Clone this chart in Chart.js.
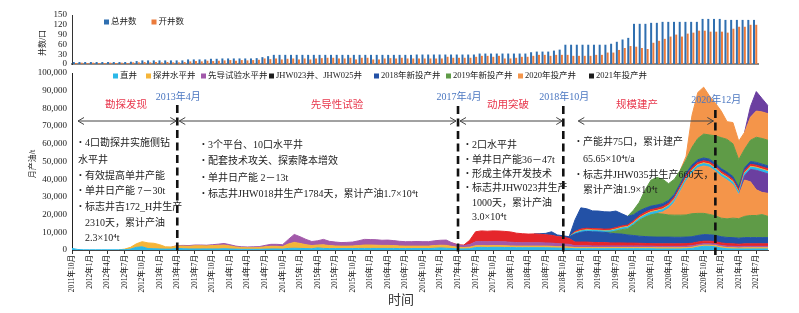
<!DOCTYPE html>
<html>
<head>
<meta charset="utf-8">
<script src="https://cdn.jsdelivr.net/npm/chart.js@4.4.1/dist/chart.umd.min.js"></script>
<style>
body { margin: 0; background: #fff; }
#wrap { position: relative; width: 799px; height: 313px; }
canvas { position: absolute; left: 0; top: 0; }
</style>
</head>
<body>
<div id="wrap">
<canvas id="wells" width="799" height="313"></canvas>
<canvas id="oil" width="799" height="313"></canvas>
</div>
<script>
// months 2011-10 .. 2021-09
var months = [];
for (var yy = 2011, mm = 10; months.length < 120; mm++) {
    if (mm > 12) { mm = 1; yy++; }
    months.push(yy + '年' + mm + '月');
}

function after(n, vals) {
    var out = [];
    for (var i = 0; i < n; i++) out.push(0);
    return out.concat(vals);
}

// top panel: well counts
var totalWells = [6,6,6,6,6,6,6,6,6,6, 7,9,11,11,11,11,11,11,11,11,
    14,14,14,14,16,16,17,17,17,17, 17,17,18,21,24,28,28,28,28,28,
    28,28,28,28,28,28,28,28,28,28, 28,28,28,28,28,28,28,28,28,28,
    29,29,29,29,29,29,29,29,29,29, 29,32,32,32,32,32,32,32,32,32,
    36,38,38,38,41,44,59,59,59,59, 59,59,59,59,62,68,75,80,123,123,
    123,126,126,129,129,129,129,129,129,129, 138,138,138,138,135,135,135,135,135,135];
var openWells = [3,4,3,4,3,3,4,3,4,3, 5,5,6,5,6,5,6,5,5,6,
    8,9,8,10,9,10,11,12,10,12, 11,12,13,17,15,17,14,16,17,14,
    17,14,17,18,19,19,17,17,19,14, 19,19,14,14,17,18,17,19,17,17,
    17,17,17,17,17,22,19,19,19,19, 22,25,25,22,25,17,17,19,22,22,
    25,28,28,25,28,28,28,25,25,25, 25,28,28,35,35,43,49,55,53,49,
    46,65,71,77,84,90,84,93,96,102, 102,99,99,99,96,108,114,114,120,120];

// monthly oil (t), stacked layers from bottom to top
var cyanLow = [900,300,100,100,100,100,100,100,100,200,
    500,1500,1800,800,700,600,500,500,900,700,
    600,600,600,600,600,600,700,600,500,400,
    400,400,400,500,600,600,500,900,1000,900,
    800,700,1200,900,800,800,800,800,800,900,
    900,900,900,900,900,900,800,800,800,800,
    800,800,1000,1200,1000,800,600,600,700,1400,
    1500,1400,1500,1500,1400,1400,1300,1300,1300,1300,
    1300,1300,1200,1100,1000,900,700,700,700,700,
    700,700,700,700,700,700,700,700,700,700,
    600,600,600,600,600,700,900,1600,2100,2100,
    1800,1100,700,600,600,600,600,600,600,600];
var yellowLow = [0,0,0,0,0,0,0,0,0,300,
    1000,2000,2900,3200,3100,2400,1300,1200,1400,1500,
    1500,1800,1800,1700,1900,2000,2100,1700,1200,1000,
    900,900,1000,1300,1500,1500,1400,2500,3300,2800,
    2200,1800,1600,2000,1700,1500,1400,1400,1500,1600,
    1900,1900,1800,1700,1700,1600,1500,1400,1400,1400,
    1400,1400,1500,1500,1600,1200,900,800,900,1000,
    1000,1000,1000,1000,1000,900,900,900,900,900,
    900,900,900,800,800,800,700,700,700,700,
    700,700,700,700,700,700,700,700,700,700,
    700,700,700,700,700,700,700,700,700,700,
    700,700,700,700,600,700,700,700,700,700];
var purpleLow = [0,0,0,0,0,0,0,0,0,0,
    0,0,0,0,0,0,0,0,200,400,
    400,400,400,400,500,700,900,700,500,400,
    400,500,500,800,1100,1100,1100,2600,4500,3800,
    3000,2300,2400,3100,2400,2200,2000,2100,2200,2700,
    3200,3100,3100,2900,3000,2800,2600,2500,2500,2600,
    2500,2500,2700,2800,3000,2000,1200,1100,1500,2200,
    2300,2200,2300,2200,2200,2100,2000,1900,1900,1900,
    1900,1800,1800,1700,1600,1500,1000,1000,1000,900,
    900,900,900,900,900,900,900,900,800,800,
    800,800,800,800,800,800,800,800,800,800,
    800,800,800,800,800,800,800,800,800,800];
var redJhw = after(66, [200,300,2400,5700,
    6000,6000,6000,6000,5900,5800,5300,5100,4900,5000,
    4800,4600,4400,4000,3800,3300,2100,2100,2100,2000,
    1900,1900,1700,1700,1700,1600,1600,1500,1500,1400,
    1400,1400,1400,1400,1400,1400,1400,1400,1400,1400,
    1400,1400,1400,1400,1300,1400,1400,1400,1400,1400]);
var blue2018Low = after(80, [300,800,2000,900,800,1000,4500,5500,6000,6000,
    6000,5800,5500,5200,5000,4600,4300,4000,3900,3800,
    3800,3800,3800,3700,3700,3700,3700,3700,3700,3600,
    3600,3500,3500,3500,3400,3500,3500,3500,3500,3500]);
var green2019Low = after(92, [500,1500,2500,3500,6000,9000,11000,12500,
    13300,13000,12500,12500,12500,12500,13000,12500,12000,11500,
    11000,10500,10500,11000,11000,12000,12500,12500,13000,12000]);
var orange2020Low = after(101, [1200,3700,7300,13300,19200,23000,25800,26800,26700,
    25200,23500,21900,19000,13300,20500,19000,14500,12500,13000]);
var purple2021Low = after(115, [2500,7000,11000,11500,11000]);
var cyanBand = after(86, [600,700,700,700,700,700,800,800,900,900,
    900,1000,1100,1300,1300,1300,1300,1300,1300,1300,
    1300,1300,1300,1300,1300,1300,1300,1300,1300,1300,
    1300,1300,1300,1300]);
var yellowBand = after(86, [300,300,300,300,300,300,300,400,400,400,
    400,500,500,500,500,500,500,500,500,500,
    500,500,500,500,500,500,500,500,500,500,
    500,500,500,500]);
var redBand = after(86, [600,800,800,800,800,800,800,800,800,800,
    900,1000,1100,1100,1100,1100,1100,1100,1100,1100,
    1100,1100,1100,1100,1100,1100,1100,1100,1100,1100,
    1100,1100,1100,1100]);
var blue2018High = after(86, [6500,12000,11000,10000,10000,9800,9600,9300,6900,4900,
    3500,2800,2300,2000,1900,1800,1600,1600,1600,1600,
    1600,1600,1600,1600,1600,1600,1600,1600,1600,1600,
    1600,1600,1600,1600]);
var green2019High = after(96, [2600,4900,10400,14700,15600,13800,9500,8500,7500,7500,
    10000,12000,13500,13700,15500,17500,18500,18500,15500,10500,
    12000,14200,14500,14500]);
var orange2020High = after(105, [2000,18000,26000,26500,22000,18500,15000,10000,12000,10500,
    9500,13000,14800,15000,15000]);
var purple2021High = after(116, [6000,11000,7500,4500]);

var milestones = ['2013年4月', '2017年4月', '2018年10月', '2020年12月'];
var phaseNames = ['勘探发现', '先导性试验', '动用突破', '规模建产'];
var legendNames = ['直井', '探井水平井', '先导试验水平井', 'JHW023井、JHW025井',
    '2018年新投产井', '2019年新投产井', '2020年投产井', '2021年投产井'];

var cyanC = '#2BB8E8', yellowC = '#F5B53A', purpleC = '#A259AA', redC = '#E5262B',
    blueC = '#2351A6', greenC = '#5F9B47', orangeC = '#F4954A', violetC = '#6B3FA0';
var legendColors = [cyanC, yellowC, purpleC, '#1c1c1c', blueC, greenC, orangeC, '#1c1c1c'];

var serif = '"Liberation Serif", "Noto Sans CJK SC", serif';
Chart.defaults.font.family = serif;

var wellLegend = {
    id: 'wellLegend',
    afterDraw: function (chart) {
        var ctx = chart.ctx;
        ctx.save();
        ctx.font = '8.5px ' + serif;
        ctx.textBaseline = 'middle';
        var xs = [104, 151.5];
        chart.data.datasets.forEach(function (ds, i) {
            ctx.fillStyle = ds.backgroundColor;
            ctx.fillRect(xs[i], 19.5, 5, 5);
            ctx.fillStyle = '#222';
            ctx.fillText(ds.label, xs[i] + 7, 22);
        });
        ctx.translate(43, 43);
        ctx.rotate(-Math.PI / 2);
        ctx.font = '8px ' + serif;
        ctx.textAlign = 'center';
        ctx.fillText('井数/口', 0, 0);
        ctx.restore();
    }
};

new Chart(document.getElementById('wells'), {
    type: 'bar',
    data: {
        labels: months,
        datasets: [
            { label: '总井数', data: totalWells, backgroundColor: '#2F6FB0', barPercentage: 0.9, categoryPercentage: 0.78 },
            { label: '开井数', data: openWells, backgroundColor: '#EB7B3B', barPercentage: 0.9, categoryPercentage: 0.78 }
        ]
    },
    options: {
        responsive: false,
        animation: false,
        layout: { padding: { left: 0, right: 41, top: 15, bottom: 0 } },
        plugins: { legend: { display: false }, tooltip: { enabled: false } },
        scales: {
            x: {
                ticks: { display: false },
                grid: { display: false, drawTicks: false },
                border: { color: '#8a8a8a', width: 2 },
                afterFit: function (s) { s.height = 249; }
            },
            y: {
                min: 0, max: 150,
                ticks: { stepSize: 30, autoSkip: false, font: { size: 9 }, color: '#222', padding: 5 },
                grid: { display: false, drawTicks: false },
                border: { color: '#333' },
                afterFit: function (s) { s.width = 72; }
            }
        }
    },
    plugins: [wellLegend]
});

function layer(label, data, color) {
    return {
        label: label,
        data: data,
        backgroundColor: color,
        borderColor: color,
        borderWidth: 1,
        pointRadius: 0,
        tension: 0,
        fill: '-1',
        segment: {
            borderColor: function (c) {
                return (data[c.p0DataIndex] === 0 && data[c.p1DataIndex] === 0) ? 'transparent' : color;
            }
        }
    };
}

var oilLayers = [
    layer('直井', cyanLow, cyanC),
    layer('探井水平井', yellowLow, yellowC),
    layer('先导试验水平井', purpleLow, purpleC),
    layer('JHW023井、JHW025井', redJhw, redC),
    layer('2018年新投产井', blue2018Low, blueC),
    layer('2019年新投产井', green2019Low, greenC),
    layer('2020年投产井', orange2020Low, orangeC),
    layer('2021年投产井', purple2021Low, violetC),
    layer('直井', cyanBand, cyanC),
    layer('探井水平井', yellowBand, yellowC),
    layer('JHW023井、JHW025井', redBand, redC),
    layer('2018年新投产井', blue2018High, blueC),
    layer('2019年新投产井', green2019High, greenC),
    layer('2020年投产井', orange2020High, orangeC),
    layer('2021年投产井', purple2021High, violetC)
];
oilLayers[0].fill = 'origin';

var notes = [
    ['4口勘探井实施侧钻', 85, 143, true],
    ['水平井', 78, 160, false],
    ['有效提高单井产能', 85, 176, true],
    ['单井日产能 7－30t', 85, 191, true],
    ['标志井吉172_H井生产', 85, 207, true],
    ['2310天，累计产油', 85, 223, false],
    ['2.3×10⁴t', 85, 238, false],
    ['3个平台、10口水平井', 208, 145, true],
    ['配套技术攻关、探索降本增效', 208, 161, true],
    ['单井日产能 2－13t', 208, 178, true],
    ['标志井JHW018井生产1784天，累计产油1.7×10⁴t', 208, 194, true],
    ['2口水平井', 472, 145, true],
    ['单井日产能36－47t', 472, 160, true],
    ['形成主体开发技术', 472, 174, true],
    ['标志井JHW023井生产', 472, 188, true],
    ['1000天，累计产油', 472, 203, false],
    ['3.0×10⁴t', 472, 217, false],
    ['产能井75口，累计建产', 583, 142, true],
    ['65.65×10⁴t/a', 583, 159, false],
    ['标志井JHW035井生产660天，', 583, 175, true],
    ['累计产油1.9×10⁴t', 583, 190, false]
];

function arrow(ctx, x1, x2, y) {
    ctx.beginPath();
    ctx.moveTo(x1, y); ctx.lineTo(x2, y);
    ctx.moveTo(x1 + 6, y - 3.5); ctx.lineTo(x1, y); ctx.lineTo(x1 + 6, y + 3.5);
    ctx.moveTo(x2 - 6, y - 3.5); ctx.lineTo(x2, y); ctx.lineTo(x2 - 6, y + 3.5);
    ctx.stroke();
}

var stages = {
    id: 'stages',
    afterDatasetsDraw: function (chart) {
        var ctx = chart.ctx, area = chart.chartArea, x = chart.scales.x;
        var mx = milestones.map(function (m) { return x.getPixelForValue(months.indexOf(m)); });
        ctx.save();

        // dashed milestone lines
        ctx.strokeStyle = '#111';
        ctx.lineWidth = 2.6;
        ctx.setLineDash([8, 4.5]);
        var tops = [105, 106, 106, 110];
        mx.forEach(function (px, i) {
            ctx.beginPath();
            ctx.moveTo(px, tops[i]);
            ctx.lineTo(px, area.bottom + 5);
            ctx.stroke();
        });
        ctx.setLineDash([]);

        // stage arrows
        ctx.strokeStyle = '#444';
        ctx.lineWidth = 1;
        arrow(ctx, area.left + 6, mx[0] - 1, 121);
        arrow(ctx, mx[0] + 2, mx[1] - 2, 121);
        arrow(ctx, mx[1] + 2, mx[2] - 1, 121);
        arrow(ctx, mx[2] + 15, mx[3] - 2, 121);

        ctx.textBaseline = 'middle';
        ctx.textAlign = 'center';

        // milestone dates
        ctx.font = '10px ' + serif;
        ctx.fillStyle = '#4A76C0';
        var dateY = [97, 97, 97, 100];
        mx.forEach(function (px, i) { ctx.fillText(milestones[i], px + 1, dateY[i]); });

        // stage names
        ctx.font = '10.5px ' + serif;
        ctx.fillStyle = '#E8364C';
        var phaseX = [126, 337, 508, 637];
        phaseNames.forEach(function (t, i) { ctx.fillText(t, phaseX[i], 105); });

        // bullet notes
        ctx.textAlign = 'left';
        ctx.fillStyle = '#222';
        notes.forEach(function (n) {
            ctx.font = '10px ' + serif;
            ctx.fillText(n[0], n[1], n[2]);
            if (n[3]) {
                ctx.font = '8px ' + serif;
                ctx.fillText('•', n[1] - 6, n[2]);
            }
        });

        // legend
        ctx.font = '8.5px ' + serif;
        var lx = [113, 146, 201, 269, 374, 446, 518, 589];
        legendNames.forEach(function (t, i) {
            ctx.fillStyle = legendColors[i];
            ctx.fillRect(lx[i], 73.5, 5, 5);
            ctx.fillStyle = '#222';
            ctx.fillText(t, lx[i] + 7, 76);
        });

        // axis titles
        ctx.textAlign = 'center';
        ctx.font = '13px ' + serif;
        ctx.fillStyle = '#333';
        ctx.fillText('时间', 401, 301);
        ctx.translate(33, 164);
        ctx.rotate(-Math.PI / 2);
        ctx.font = '8px ' + serif;
        ctx.fillStyle = '#222';
        ctx.fillText('月产油/t', 0, 0);
        ctx.restore();
    }
};

new Chart(document.getElementById('oil'), {
    type: 'line',
    data: { labels: months, datasets: oilLayers },
    options: {
        responsive: false,
        animation: false,
        layout: { padding: { left: 0, right: 31, top: 73, bottom: 0 } },
        plugins: { legend: { display: false }, tooltip: { enabled: false } },
        scales: {
            x: {
                ticks: {
                    autoSkip: false, minRotation: 90, maxRotation: 90,
                    font: { size: 7.5 }, color: '#111', padding: 1,
                    callback: function (v, i) { return i % 3 === 0 ? months[i] : ''; }
                },
                grid: {
                    drawOnChartArea: false, tickLength: 4,
                    color: function (c) { return c.index % 3 === 0 ? '#333' : 'transparent'; }
                },
                border: { color: '#444' },
                afterFit: function (s) { s.height = 63; }
            },
            y: {
                stacked: true, min: 0, max: 100000,
                ticks: { stepSize: 10000, autoSkip: false, font: { size: 9 }, color: '#222', padding: 5 },
                grid: { display: false, drawTicks: false },
                border: { color: '#222' },
                afterFit: function (s) { s.width = 72; }
            }
        }
    },
    plugins: [stages]
});
</script>
</body>
</html>
